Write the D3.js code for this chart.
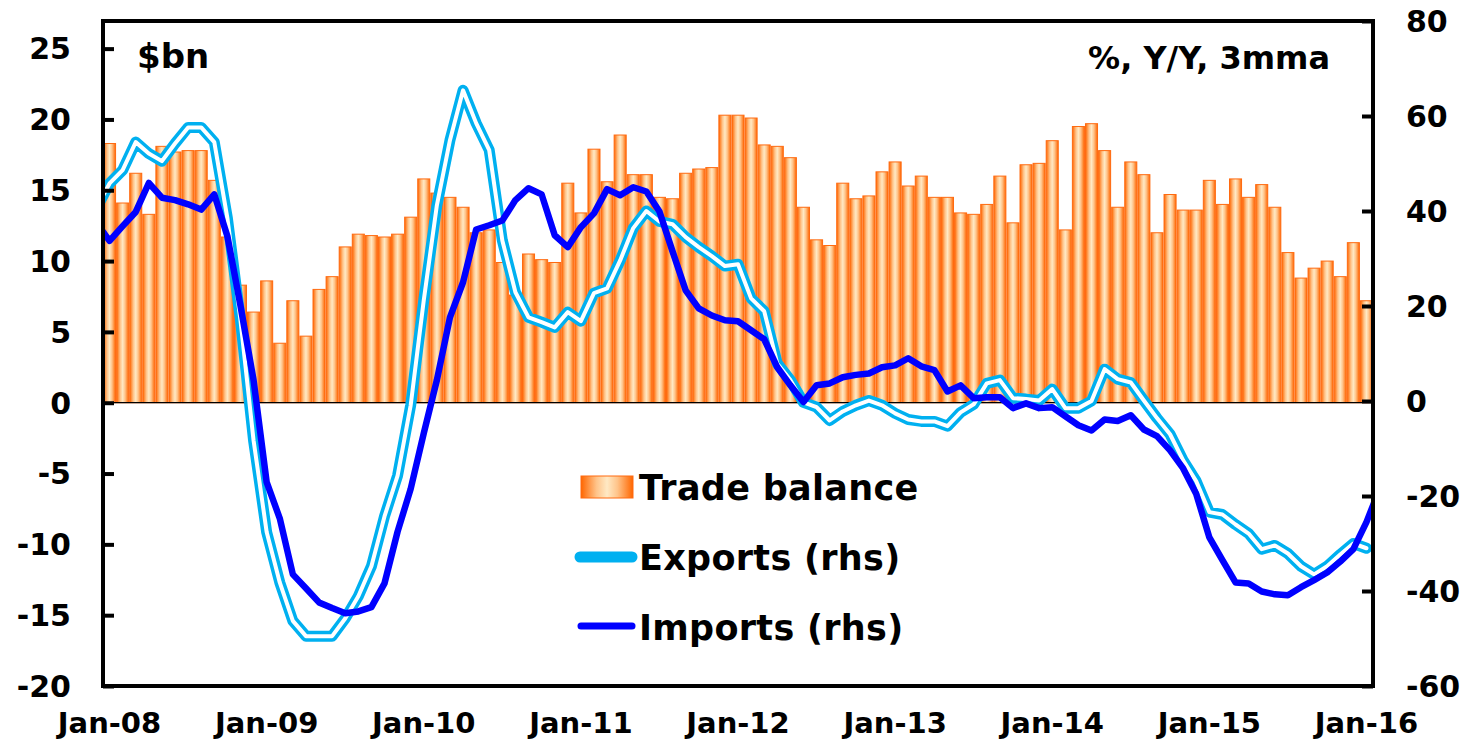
<!DOCTYPE html>
<html>
<head>
<meta charset="utf-8">
<script src="https://cdn.jsdelivr.net/npm/d3@7"></script>
<style>
  body { margin: 0; background: #fff; }
  svg { display: block; font-family: "DejaVu Sans", Verdana, sans-serif; font-weight: bold; }
</style>
</head>
<body>
<div id="chart"></div>
<script>
/* CONSTANTS AND GLOBALS */
const width = 1467,
  height = 741,
  margin = { top: 21, bottom: 55, left: 103, right: 94 };

/* DATA */
// x tick labels, one per January
const tickLabels = ["Jan-08", "Jan-09", "Jan-10", "Jan-11", "Jan-12", "Jan-13", "Jan-14", "Jan-15", "Jan-16"];

// trade balance, $bn, Jan-08 .. Jan-16 (97 months)
const tradeBalance = [
  18.3, 14.1, 16.2, 13.3, 18.1, 17.7, 17.8, 17.8, 15.7, 11.7, 8.3, 6.4,
  8.6, 4.2, 7.2, 4.7, 8.0, 8.9, 11.0, 11.9, 11.8, 11.7, 11.9, 13.1,
  15.8, 14.8, 14.5, 13.8, 12.0, 12.2, 9.9, 7.6, 10.5, 10.1, 9.9, 15.5,
  13.4, 17.9, 15.6, 18.9, 16.1, 16.1, 14.5, 14.4, 16.2, 16.5, 16.6, 20.3,
  20.3, 20.1, 18.2, 18.1, 17.3, 13.8, 11.5, 11.1, 15.5, 14.4, 14.6, 16.3,
  17.0, 15.3, 16.0, 14.5, 14.5, 13.4, 13.3, 14.0, 16.0, 12.7, 16.8, 16.9,
  18.5, 12.2, 19.5, 19.7, 17.8, 13.8, 17.0, 16.1, 12.0, 14.7, 13.6, 13.6,
  15.7, 14.0, 15.8, 14.5, 15.4, 13.8, 10.6, 8.8, 9.5, 10.0, 8.9, 11.3,
  7.2
];

// exports, % Y/Y 3mma, Dec-07 .. Jan-16
const exportsYoY = [
  40.6,
  45.8, 48.6, 54.5, 52.1, 50.5, 54.2, 57.6, 57.6, 54.5, 38.5, 17.0, -8.3,
  -27.6, -38.2, -46.3, -49.5, -49.5, -49.5, -45.8, -41.1, -34.8, -24.3, -15.7, -0.9,
  21.2, 41.2, 54.9, 65.4, 58.5, 52.8, 33.8, 22.9, 17.6, 16.6, 15.5, 18.7,
  16.8, 22.7, 23.7, 29.6, 36.4, 40.0, 37.8, 37.2, 34.5, 32.4, 30.5, 28.4,
  28.8, 21.6, 18.9, 7.9, 4.4, -0.3, -1.3, -4.1, -2.2, -0.9, 0.1, -0.9,
  -2.6, -3.9, -4.3, -4.3, -5.3, -2.4, -0.7, 3.7, 4.4, 0.6, 0.4, 0.1,
  2.5, -1.5, -1.5, 0.0, 6.7, 4.6, 3.9, 0.1, -3.6, -7.0, -12.5, -16.9,
  -23.4, -23.9, -26.0, -27.9, -31.2, -30.4, -32.1, -34.8, -36.5, -34.8, -32.3, -30.0,
  -31.0
];

// imports, % Y/Y 3mma, Dec-07 .. Feb-16
const importsYoY = [
  37.5,
  33.7, 36.8, 39.8, 45.9, 42.8, 42.3, 41.4, 40.3, 43.5, 34.7, 20.1, 4.4,
  -17.1, -24.7, -36.5, -39.4, -42.4, -43.6, -44.7, -44.3, -43.4, -38.4, -27.5, -18.5,
  -6.8, 4.4, 17.6, 25.0, 36.1, 37.0, 38.0, 42.3, 44.8, 43.5, 34.9, 32.4,
  36.6, 39.5, 44.6, 43.3, 45.0, 44.1, 39.9, 31.5, 23.3, 19.5, 18.0, 17.0,
  16.8, 14.9, 13.0, 7.1, 3.3, -0.2, 3.3, 3.7, 5.0, 5.5, 5.8, 7.1,
  7.5, 9.0, 7.3, 6.5, 2.0, 3.3, 0.6, 0.8, 0.8, -1.5, -0.5, -1.5,
  -1.3, -3.2, -5.1, -6.2, -3.9, -4.2, -3.0, -6.0, -7.4, -10.4, -14.2, -19.6,
  -28.7, -33.5, -38.2, -38.4, -40.1, -40.7, -40.9, -39.2, -37.7, -36.1, -33.8, -31.2,
  -25.5, -18.5
];

const leftTicks = [-20, -15, -10, -5, 0, 5, 10, 15, 20, 25];
const rightTicks = [-60, -40, -20, 0, 20, 40, 60, 80];

const legendItems = ["Trade balance", "Exports (rhs)", "Imports (rhs)"];

// month index for each bar (0 = Jan-08)
const months = d3.range(tradeBalance.length);

let svg, xBand, xIndex, yLeft, yRight;

function init() {
  // + SCALES
  xBand = d3.scaleBand()
    .domain(months)
    .range([margin.left, width - margin.right])
    .paddingInner(0.08)
    .paddingOuter(0.04);

  // continuous month index, so the lines sit on the bar centres
  xIndex = d3.scaleLinear()
    .domain([-0.5, months.length - 0.5])
    .range([margin.left, width - margin.right]);

  yLeft = d3.scaleLinear()
    .domain([-20, 26.95])
    .range([height - margin.bottom, margin.top]);

  yRight = d3.scaleLinear()
    .domain([-60, 80])
    .range([height - margin.bottom, margin.top]);

  svg = d3.select("#chart")
    .append("svg")
    .attr("width", width)
    .attr("height", height);

  const defs = svg.append("defs");
  const grad = defs.append("linearGradient")
    .attr("id", "barGrad")
    .attr("x1", "0%").attr("x2", "100%")
    .attr("y1", "0%").attr("y2", "0%");
  [[0, "#ff6600"], [0.3, "#ffc48a"], [0.5, "#ffe9c4"], [0.7, "#ffc48a"], [1, "#ff6600"]]
    .forEach(s => grad.append("stop").attr("offset", s[0]).attr("stop-color", s[1]));

  defs.append("clipPath").attr("id", "plotClip")
    .append("rect")
    .attr("x", margin.left)
    .attr("y", margin.top)
    .attr("width", width - margin.left - margin.right)
    .attr("height", height - margin.top - margin.bottom);

  draw();
}

function draw() {
  // + BARS
  svg.append("g")
    .selectAll("rect.bar")
    .data(tradeBalance)
    .join("rect")
    .attr("class", "bar")
    .attr("x", (d, i) => xBand(i))
    .attr("width", xBand.bandwidth())
    .attr("y", d => yLeft(Math.max(0, d)))
    .attr("height", d => Math.abs(yLeft(d) - yLeft(0)))
    .attr("fill", "url(#barGrad)")
    .attr("stroke", "#ff6a10")
    .attr("stroke-width", 1);

  // zero line
  svg.append("line")
    .attr("x1", margin.left).attr("x2", width - margin.right)
    .attr("y1", yLeft(0)).attr("y2", yLeft(0))
    .attr("stroke", "#000")
    .attr("stroke-width", 1.2);

  // + LINES (first value is Dec-07, hence the -1 offset)
  const lineGen = d3.line()
    .x((d, i) => xIndex(i - 1))
    .y(d => yRight(d));

  const lines = svg.append("g").attr("clip-path", "url(#plotClip)");

  lines.append("path")
    .attr("d", lineGen(exportsYoY))
    .attr("fill", "none")
    .attr("stroke", "#00b0f0")
    .attr("stroke-width", 11)
    .attr("stroke-linejoin", "round")
    .attr("stroke-linecap", "round");

  lines.append("path")
    .attr("d", lineGen(exportsYoY))
    .attr("fill", "none")
    .attr("stroke", "#fff")
    .attr("stroke-width", 4)
    .attr("stroke-linejoin", "round")
    .attr("stroke-linecap", "round");

  lines.append("path")
    .attr("d", lineGen(importsYoY))
    .attr("fill", "none")
    .attr("stroke", "#0000ff")
    .attr("stroke-width", 6.5)
    .attr("stroke-linejoin", "round");

  // + FRAME AND AXES
  svg.append("rect")
    .attr("x", margin.left)
    .attr("y", margin.top)
    .attr("width", width - margin.left - margin.right)
    .attr("height", height - margin.top - margin.bottom)
    .attr("fill", "none")
    .attr("stroke", "#000")
    .attr("stroke-width", 4);

  const leftAxis = d3.axisRight(yLeft)
    .tickValues(leftTicks)
    .tickSize(11)
    .tickFormat("");
  svg.append("g")
    .attr("transform", `translate(${margin.left}, 0)`)
    .call(leftAxis)
    .call(g => g.select(".domain").remove())
    .call(g => g.selectAll(".tick line").attr("stroke-width", 4));

  svg.append("g")
    .selectAll("text")
    .data(leftTicks)
    .join("text")
    .attr("x", 71)
    .attr("y", d => yLeft(d))
    .attr("dy", "0.36em")
    .attr("text-anchor", "end")
    .attr("font-size", 30)
    .text(d => d);

  const rightAxis = d3.axisLeft(yRight)
    .tickValues(rightTicks)
    .tickSize(11)
    .tickFormat("");
  svg.append("g")
    .attr("transform", `translate(${width - margin.right}, 0)`)
    .call(rightAxis)
    .call(g => g.select(".domain").remove())
    .call(g => g.selectAll(".tick line").attr("stroke-width", 4));

  svg.append("g")
    .selectAll("text")
    .data(rightTicks)
    .join("text")
    .attr("x", 1406)
    .attr("y", d => yRight(d))
    .attr("dy", "0.36em")
    .attr("text-anchor", "start")
    .attr("font-size", 30)
    .text(d => d);

  // x labels every 12 months
  svg.append("g")
    .selectAll("text")
    .data(tickLabels)
    .join("text")
    .attr("x", (d, i) => xBand(i * 12) + xBand.bandwidth() / 2)
    .attr("y", 733)
    .attr("text-anchor", "middle")
    .attr("font-size", 29)
    .text(d => d);

  // unit labels
  svg.append("text")
    .attr("x", 137).attr("y", 68)
    .attr("font-size", 34)
    .text("$bn");

  svg.append("text")
    .attr("x", 1330).attr("y", 69)
    .attr("text-anchor", "end")
    .attr("font-size", 32)
    .text("%, Y/Y, 3mma");

  // + LEGEND
  const legend = svg.append("g");
  legend.append("rect")
    .attr("x", 581).attr("y", 476)
    .attr("width", 52).attr("height", 22)
    .attr("fill", "url(#barGrad)")
    .attr("stroke", "#ff6a10")
    .attr("stroke-width", 1);
  legend.append("line")
    .attr("x1", 580).attr("x2", 632)
    .attr("y1", 557).attr("y2", 557)
    .attr("stroke", "#00b0f0")
    .attr("stroke-width", 11)
    .attr("stroke-linecap", "round");
  legend.append("line")
    .attr("x1", 581).attr("x2", 632)
    .attr("y1", 626).attr("y2", 626)
    .attr("stroke", "#0000ff")
    .attr("stroke-width", 7)
    .attr("stroke-linecap", "round");

  legend.selectAll("text")
    .data(legendItems)
    .join("text")
    .attr("x", 639)
    .attr("y", (d, i) => [500, 570, 640][i])
    .attr("font-size", 35)
    .attr("letter-spacing", 0.3)
    .text(d => d);
}

init();
</script>
</body>
</html>
